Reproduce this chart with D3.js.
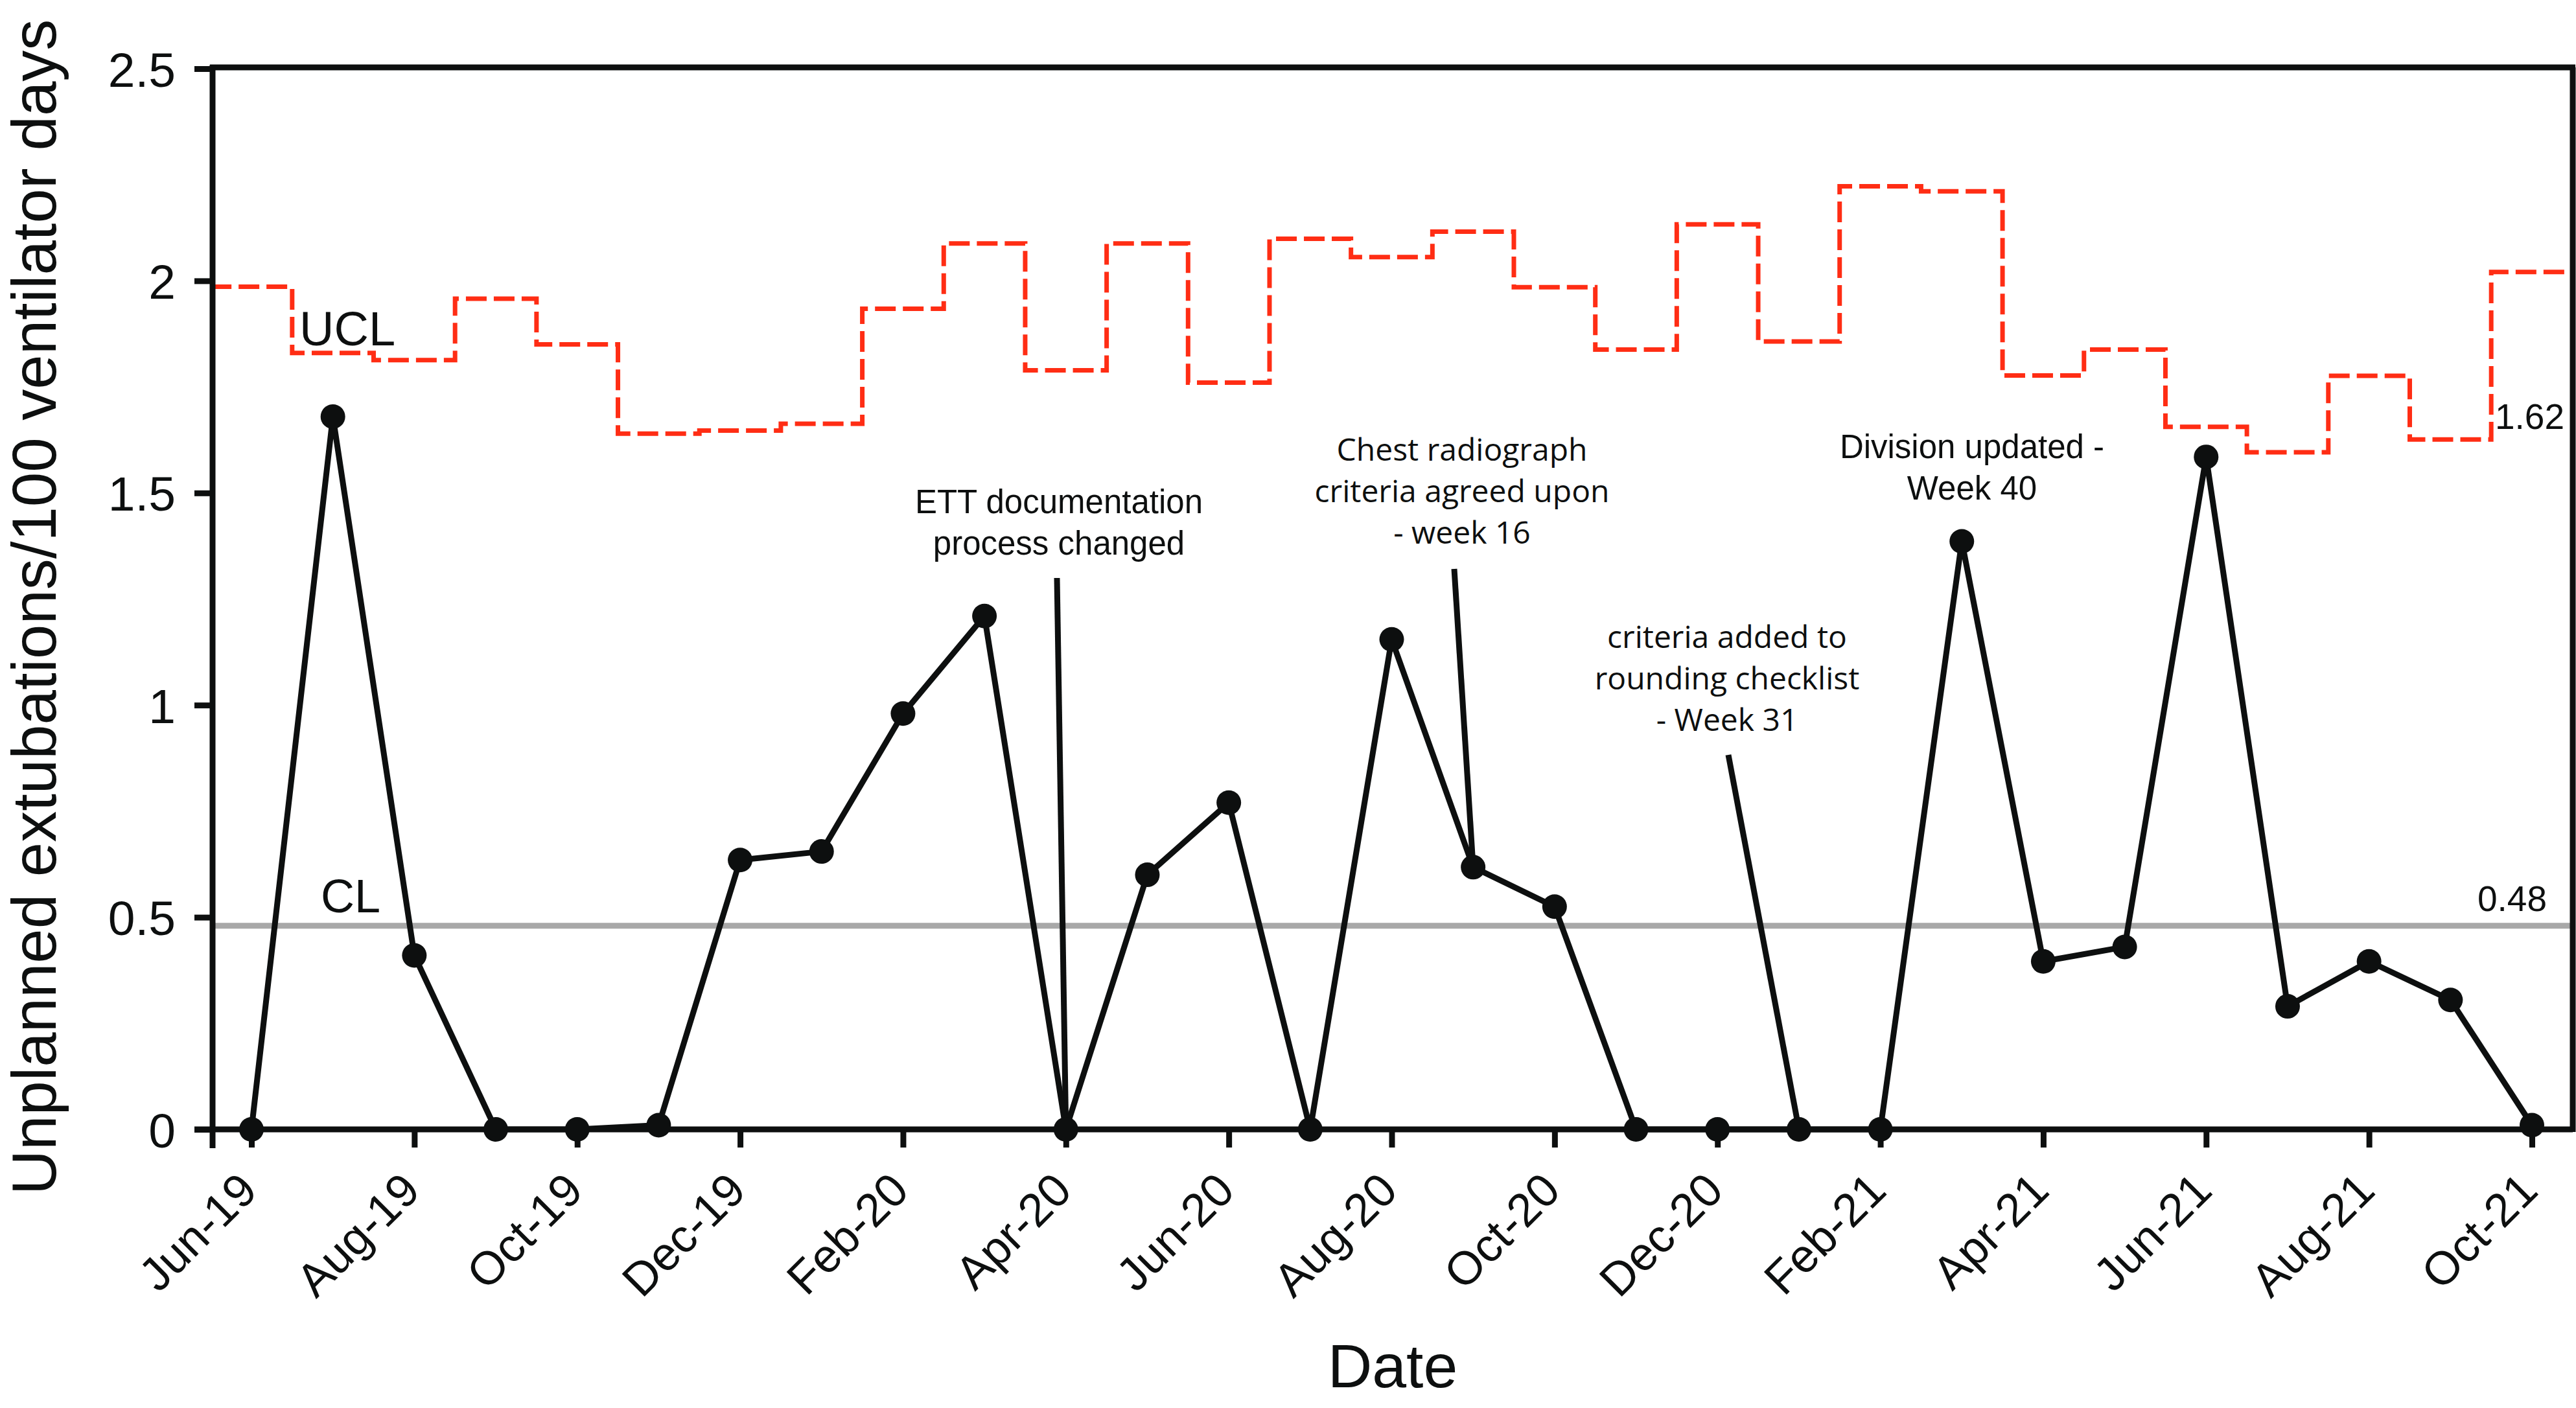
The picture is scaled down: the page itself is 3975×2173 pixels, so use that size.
<!DOCTYPE html>
<html>
<head>
<meta charset="utf-8">
<script src="https://cdn.jsdelivr.net/npm/d3@7"></script>
<style>
  body { margin: 0; background: #fff; }
  svg { display: block; }
</style>
</head>
<body>
<div id="chart"></div>
<script>
// monthly unplanned extubation rate, Jun-19 .. Oct-21
var months = ["Jun-19","Jul-19","Aug-19","Sep-19","Oct-19","Nov-19","Dec-19","Jan-20","Feb-20","Mar-20",
              "Apr-20","May-20","Jun-20","Jul-20","Aug-20","Sep-20","Oct-20","Nov-20","Dec-20","Jan-21",
              "Feb-21","Mar-21","Apr-21","May-21","Jun-21","Jul-21","Aug-21","Sep-21","Oct-21"];
var rate = [0, 1.68, 0.41, 0, 0, 0.01, 0.635, 0.655, 0.98, 1.21,
            0, 0.60, 0.77, 0, 1.155, 0.618, 0.525, 0, 0, 0,
            0, 1.386, 0.396, 0.43, 1.585, 0.29, 0.396, 0.305, 0.01];
var ucl = [1.986, 1.83, 1.813, 1.958, 1.85, 1.64, 1.647, 1.663, 1.934, 2.088,
           1.789, 2.088, 1.76, 2.099, 2.056, 2.116, 1.985, 1.838, 2.133, 1.857,
           2.223, 2.211, 1.777, 1.838, 1.656, 1.596, 1.776, 1.626, 2.021];
var cl = 0.48;
var yTicks = [0, 0.5, 1, 1.5, 2, 2.5];
var xTickMonths = months.filter(function(d, i) { return i % 2 == 0 });

// annotations: text lines and the month the leader line points at
var noteText = [["ETT documentation", "process changed"],
                ["Chest radiograph", "criteria agreed upon", "- week 16"],
                ["criteria added to", "rounding checklist", "- Week 31"],
                ["Division updated -", "Week 40"]];
var noteMonth = ["Apr-20", "Sep-20", "Jan-21", null];

var w_width = 3975, w_height = 2173;
var pLeft = 328, pRight = 3970, pTop = 104, pBottom = 1743;

var svg = d3.select('#chart').append('svg')
  .attr('width', w_width)
  .attr('height', w_height)
  .style('background', '#fff')

var x = d3.scalePoint().domain(months).range([388, 3907])
var y = d3.scaleLinear().domain([0, 2.5]).range([pBottom, 106])

svg.append('clipPath').attr('id', 'plotclip')
  .append('rect').attr('x', pLeft).attr('y', 0).attr('width', pRight - pLeft - 4).attr('height', pBottom)

// UCL step line, one flat piece per month
var half = x.step() / 2;
var uclPts = months.map(function(m, i) { return [x(m) - half, y(ucl[i])] });
uclPts.push([x(months[months.length - 1]) + half, y(ucl[ucl.length - 1])]);
svg.append('path')
  .attr('clip-path', 'url(#plotclip)')
  .attr('d', d3.line().curve(d3.curveStepAfter)(uclPts))
  .attr('fill', 'none')
  .attr('stroke', '#ff2d14')
  .attr('stroke-width', 7)
  .style('stroke-dasharray', '32,11')

// centre line
svg.append('line')
  .attr('x1', pLeft).attr('x2', pRight)
  .attr('y1', y(cl)).attr('y2', y(cl))
  .attr('stroke', '#a8a8a8').attr('stroke-width', 9)

// leader lines for the notes
var noteLayout = [
  {cx: 1634, base: 792, lead: [1631, 892]},
  {cx: 2256, base: 711, lead: [2244, 878]},
  {cx: 2665, base: 1000, lead: [2667, 1165]},
  {cx: 3043, base: 707, lead: null}
];
noteText.forEach(function(lines, k) {
  var lay = noteLayout[k];
  if (noteMonth[k]) {
    var mi = months.indexOf(noteMonth[k]);
    svg.append('line')
      .attr('x1', lay.lead[0]).attr('y1', lay.lead[1])
      .attr('x2', x(noteMonth[k])).attr('y2', y(rate[mi]))
      .attr('stroke', '#0d0f0f').attr('stroke-width', 9)
  }
  var fam = (k == 1 || k == 2) ? '"Open Sans", sans-serif' : '"Liberation Sans", Arial, sans-serif';
  var t = svg.append('text')
    .attr('text-anchor', 'middle')
    .attr('font-family', fam)
    .attr('font-size', (k == 1 || k == 2) ? 48 : 51)
    .attr('fill', '#0d0f0f')
  lines.forEach(function(s, j) {
    t.append('tspan').attr('x', lay.cx).attr('y', lay.base + j * 64).text(s)
  })
})

// data line
svg.append('path')
  .datum(rate)
  .attr('d', d3.line().x(function(d, i) { return x(months[i]) }).y(function(d) { return y(d) }))
  .attr('fill', 'none')
  .attr('stroke', '#0d0f0f')
  .attr('stroke-width', 9)
  .attr('stroke-linejoin', 'round')

// frame
var frame = svg.append('g').attr('stroke', '#0d0f0f').attr('stroke-width', 9)
frame.append('line').attr('x1', pLeft).attr('x2', pLeft).attr('y1', pTop - 4).attr('y2', pBottom + 29)
frame.append('line').attr('x1', pLeft - 28).attr('x2', pRight).attr('y1', pBottom).attr('y2', pBottom)
frame.append('line').attr('x1', pLeft - 4).attr('x2', pRight + 4).attr('y1', pTop).attr('y2', pTop)
frame.append('line').attr('x1', pRight).attr('x2', pRight).attr('y1', pTop).attr('y2', pBottom + 4)

// y axis
var yAxis = svg.append('g')
  .attr('transform', 'translate(' + pLeft + ',0)')
  .call(d3.axisLeft(y).tickValues(yTicks).tickSize(28).tickPadding(29).tickSizeOuter(0)
        .tickFormat(function(d) { return d }))
yAxis.select('.domain').remove()
yAxis.selectAll('line').attr('stroke', '#0d0f0f').attr('stroke-width', 9)
yAxis.selectAll('text')
  .attr('font-family', '"Liberation Sans", Arial, sans-serif')
  .attr('font-size', 75)
  .attr('fill', '#0d0f0f')
  .attr('dy', '0.36em')

// x axis
var xAxis = svg.append('g')
  .attr('transform', 'translate(0,' + pBottom + ')')
  .call(d3.axisBottom(x).tickValues(xTickMonths).tickSize(28).tickSizeOuter(0))
xAxis.select('.domain').remove()
xAxis.selectAll('line').attr('stroke', '#0d0f0f').attr('stroke-width', 9)
xAxis.selectAll('text')
  .attr('font-family', '"Liberation Sans", Arial, sans-serif')
  .attr('font-size', 72)
  .attr('fill', '#0d0f0f')
  .attr('text-anchor', 'end')
  .attr('y', 0).attr('dy', 0)
  .attr('transform', 'translate(12,98) rotate(-45)')

// markers
svg.selectAll('.dot')
  .data(rate)
  .enter()
  .append('circle')
  .attr('class', 'dot')
  .attr('cx', function(d, i) { return x(months[i]) })
  .attr('cy', function(d) { return y(d) })
  .attr('r', 19)
  .attr('fill', '#0d0f0f')

// line labels
var lab = svg.append('g').attr('font-family', '"Liberation Sans", Arial, sans-serif').attr('fill', '#0d0f0f')
lab.append('text').attr('x', 462).attr('y', 533).attr('font-size', 74).text('UCL')
lab.append('text').attr('x', 495).attr('y', 1408).attr('font-size', 72).text('CL')
lab.append('text').attr('x', 3930).attr('y', 1406).attr('font-size', 55).attr('text-anchor', 'end').text(d3.format('.2f')(cl))
lab.append('text').attr('x', 3957).attr('y', 662).attr('font-size', 55).attr('text-anchor', 'end').text(d3.format('.2f')(ucl[ucl.length - 2] - 0.006))

// axis titles
svg.append('text')
  .attr('transform', 'translate(86,' + 937 + ') rotate(-90)')
  .attr('text-anchor', 'middle')
  .attr('font-family', '"Liberation Sans", Arial, sans-serif')
  .attr('font-size', 96)
  .attr('fill', '#0d0f0f')
  .text('Unplanned extubations/100 ventilator days')
svg.append('text')
  .attr('x', (pLeft + pRight) / 2).attr('y', 2141)
  .attr('text-anchor', 'middle')
  .attr('font-family', '"Liberation Sans", Arial, sans-serif')
  .attr('font-size', 95)
  .attr('fill', '#0d0f0f')
  .text('Date')
</script>
</body>
</html>
